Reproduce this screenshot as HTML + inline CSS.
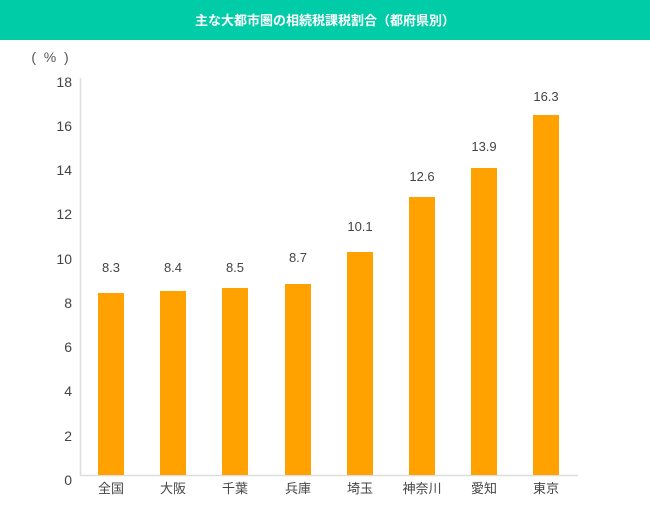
<!DOCTYPE html>
<html><head><meta charset="utf-8"><style>
body{margin:0;width:650px;height:500px;background:#fff;overflow:hidden;font-family:"Liberation Sans","Noto Sans CJK JP",sans-serif;}
</style></head><body>
<svg width="650" height="500" xmlns="http://www.w3.org/2000/svg" font-family="Liberation Sans, Noto Sans CJK JP, sans-serif">
<rect x="0" y="0" width="650" height="40" fill="#00cca8"/>
<text x="325" y="25" fill="#fff" font-size="13" font-weight="bold" text-anchor="middle">主な大都市圏の相続税課税割合（都府県別）</text>
<text x="50" y="62" fill="#555" font-size="14" text-anchor="middle" xml:space="preserve">(  %  )</text>
<line x1="80.5" y1="78" x2="80.5" y2="476" stroke="#ddd" stroke-width="1.5"/>
<line x1="80" y1="475.5" x2="578" y2="475.5" stroke="#ddd" stroke-width="1.5"/>
<g fill="#444" font-size="14" text-anchor="end">
<text x="72" y="485">0</text><text x="72" y="441">2</text><text x="72" y="396">4</text><text x="72" y="352">6</text><text x="72" y="308">8</text><text x="72" y="264">10</text><text x="72" y="219">12</text><text x="72" y="175">14</text><text x="72" y="131">16</text><text x="72" y="87">18</text>
</g>
<g fill="#ffa200">
<rect x="98" y="293" width="26" height="182"/>
<rect x="160" y="291" width="26" height="184"/>
<rect x="222" y="288" width="26" height="187"/>
<rect x="285" y="284" width="26" height="191"/>
<rect x="347" y="252" width="26" height="223"/>
<rect x="409" y="197" width="26" height="278"/>
<rect x="471" y="168" width="26" height="307"/>
<rect x="533" y="115" width="26" height="360"/>
</g>
<g fill="#444" font-size="13" text-anchor="middle">
<text x="111" y="272">8.3</text><text x="173" y="272">8.4</text><text x="235" y="272">8.5</text><text x="298" y="262">8.7</text><text x="360" y="231">10.1</text><text x="422" y="181">12.6</text><text x="484" y="151">13.9</text><text x="546" y="101">16.3</text>
</g>
<g fill="#444" font-size="13" text-anchor="middle">
<text x="111" y="493">全国</text><text x="173" y="493">大阪</text><text x="235" y="493">千葉</text><text x="298" y="493">兵庫</text><text x="360" y="493">埼玉</text><text x="422" y="493">神奈川</text><text x="484" y="493">愛知</text><text x="546" y="493">東京</text>
</g>
</svg>
</body></html>
